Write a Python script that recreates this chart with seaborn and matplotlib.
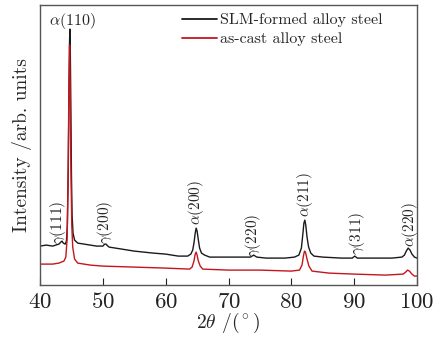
import numpy as np
import pandas as pd
import matplotlib
matplotlib.use("Agg")
import matplotlib.pyplot as plt
import seaborn as sns

# ---- data (2theta in degrees, intensity in arb. units) ----
slm_2theta = [40.0, 41.0, 42.0, 43.0, 43.3, 43.5, 43.7, 44.0, 44.2, 44.35, 44.5, 44.6,
              44.7, 44.75, 44.8, 44.9, 45.0, 45.1, 45.25, 45.5, 46.0, 47.0, 48.0, 49.0,
              50.0, 50.3, 50.5, 50.8, 51.0, 53.0, 55.0, 58.0, 60.0, 62.0, 63.5, 64.0,
              64.3, 64.5, 64.7, 64.85, 65.0, 65.2, 65.4, 65.7, 66.2, 67.0, 70.0, 72.0,
              73.5, 74.0, 74.5, 76.0, 79.0, 80.5, 81.2, 81.6, 81.85, 82.0, 82.15, 82.3,
              82.5, 82.75, 83.1, 83.6, 85.0, 88.0, 89.7, 90.1, 90.5, 93.0, 96.0, 97.6,
              98.0, 98.3, 98.6, 98.9, 99.2, 99.6, 100.0]
slm_intensity = [39, 40, 39, 41, 43, 44, 42, 41, 44, 60, 120, 190,
                 245, 256, 245, 180, 110, 70, 52, 45, 42, 41, 40, 39,
                 39, 41, 41, 39, 38, 36, 34, 32, 31, 29, 29, 31,
                 35, 42, 52, 57, 54, 45, 37, 32, 30, 28, 28, 28,
                 28, 30, 28, 27, 27, 28, 30, 37, 52, 62, 65, 60,
                 48, 38, 32, 29, 28, 27, 27, 29, 27, 27, 27, 28,
                 30, 34, 37, 35, 31, 28, 27]

cast_2theta = [40.0, 41.0, 42.0, 43.0, 43.8, 44.1, 44.3, 44.45, 44.6, 44.7, 44.8, 44.9,
               45.05, 45.2, 45.5, 46.0, 48.0, 50.0, 55.0, 60.0, 63.8, 64.2, 64.5, 64.7,
               64.85, 65.0, 65.2, 65.5, 65.9, 70.0, 75.0, 80.0, 81.3, 81.7, 81.95, 82.1,
               82.25, 82.5, 82.8, 83.3, 86.0, 90.0, 95.0, 97.8, 98.2, 98.5, 98.8, 99.2,
               99.6, 100.0]
cast_intensity = [21, 21, 21, 22, 24, 28, 45, 100, 200, 240, 200, 120,
                  60, 38, 26, 22, 20, 19, 18, 17, 16, 18, 24, 31,
                  33, 30, 24, 19, 16, 15, 15, 14, 15, 20, 30, 34,
                  33, 26, 19, 14, 12, 11, 10, 11, 13, 15, 14, 11,
                  9, 9]

series_names = ["SLM-formed alloy steel", "as-cast alloy steel"]

peak_labels = [r"$\gamma$(111)", r"$\gamma$(200)", r"$\alpha$(200)", r"$\gamma$(220)",
               r"$\alpha$(211)", r"$\gamma$(311)", r"$\alpha$(220)"]
peak_label_x = [42.9, 50.3, 64.9, 73.9, 82.2, 90.4, 98.9]
peak_label_y = [41, 41, 60, 28, 68, 30, 38]
main_label = r"$\alpha$(110)"
main_label_xy = (45.2, 264)

x_ticks = [40, 50, 60, 70, 80, 90, 100]

# ---- style ----
sns.set_style("ticks")
plt.rcParams["font.family"] = ["cmr10", "DejaVu Serif"]
plt.rcParams["mathtext.fontset"] = "cm"
plt.rcParams["axes.formatter.use_mathtext"] = True
plt.rcParams["axes.unicode_minus"] = False

df = pd.concat([
    pd.DataFrame({"2theta": slm_2theta, "I": slm_intensity, "sample": series_names[0]}),
    pd.DataFrame({"2theta": cast_2theta, "I": cast_intensity, "sample": series_names[1]}),
])

fig = plt.figure(figsize=(4.45, 3.39), dpi=100)
ax = fig.add_axes([0.09, 0.159, 0.847, 0.826])

sns.lineplot(data=df, x="2theta", y="I", hue="sample",
             palette={series_names[0]: "#1a1a1a", series_names[1]: "#c4161c"},
             linewidth=1.0, ax=ax, estimator=None, sort=True)

ax.set_xlim(40, 100)
ax.set_ylim(0, 280)
ax.set_xticks(x_ticks)
ax.set_yticks([])
ax.tick_params(axis="x", direction="in", length=5, width=0.8, labelsize=16.5, pad=5,
               colors="#222222")
for s in ax.spines.values():
    s.set_color("#555555")
    s.set_linewidth(1.0)

ax.set_xlabel(r"2$\theta$ /($^\circ$)", fontsize=14, labelpad=-1)
ax.set_ylabel("Intensity /arb. units", fontsize=14, labelpad=6)

for lab, x, y in zip(peak_labels, peak_label_x, peak_label_y):
    ax.text(x, y, lab, rotation=90, ha="center", va="bottom", fontsize=11)
ax.text(main_label_xy[0], main_label_xy[1], main_label, ha="center", va="center", fontsize=11.5)

leg = ax.legend(loc="upper right", frameon=False, fontsize=11.5, handlelength=2.2,
                handletextpad=0.2, labelspacing=0.3, borderaxespad=0.1,
                bbox_to_anchor=(0.93, 1.0))
for line in leg.get_lines():
    line.set_linewidth(1.3)

fig.savefig("out.png", dpi=100)
